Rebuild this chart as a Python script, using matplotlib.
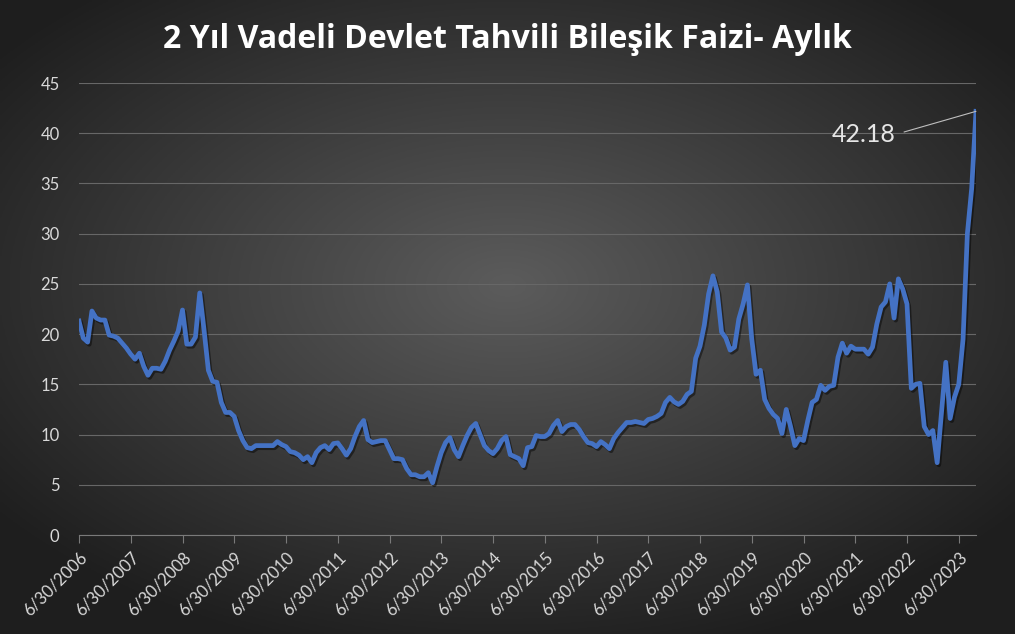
import matplotlib
matplotlib.use("Agg")
import matplotlib.pyplot as plt
import matplotlib.patheffects as pe
import numpy as np

# Monthly 2-year bond yield (%), starting 6/30/2006
rates = [
    21.3, 19.6, 19.2, 22.3, 21.6, 21.4, 21.4, 19.9, 19.8, 19.6, 19.1, 18.6,
    18.0, 17.5, 18.1, 16.8, 15.9, 16.6, 16.6, 16.5, 17.3, 18.4, 19.3, 20.3,
    22.4, 19.0, 19.0, 19.7, 24.1, 20.4, 16.4, 15.3, 15.2, 13.2, 12.2, 12.2,
    11.8, 10.4, 9.4, 8.7, 8.6, 8.9, 8.9, 8.9, 8.9, 8.9, 9.3, 9.0,
    8.8, 8.3, 8.2, 7.95, 7.5, 7.8, 7.2, 8.2, 8.7, 8.9, 8.5, 9.1,
    9.17, 8.6, 7.95, 8.6, 9.8, 10.8, 11.4, 9.5, 9.2, 9.3, 9.4, 9.4,
    8.5, 7.6, 7.6, 7.5, 6.6, 6.0, 6.0, 5.8, 5.8, 6.2, 5.2, 6.8,
    8.2, 9.2, 9.7, 8.5, 7.8, 8.9, 9.9, 10.7, 11.1, 10.0, 8.9, 8.4,
    8.1, 8.6, 9.4, 9.8, 8.0, 7.8, 7.6, 6.9, 8.7, 8.8, 9.9, 9.8,
    9.8, 10.1, 10.9, 11.4, 10.3, 10.8, 11.0, 11.0, 10.5, 9.8, 9.2, 9.1,
    8.8, 9.3, 9.0, 8.6, 9.6, 10.2, 10.7, 11.2, 11.2, 11.3, 11.2, 11.1,
    11.5, 11.6, 11.8, 12.1, 13.2, 13.7, 13.25, 13.0, 13.3, 14.0, 14.3, 17.6,
    18.8, 20.9, 24.0, 25.8, 24.2, 20.2, 19.6, 18.4, 18.7, 21.5, 23.0, 24.9,
    19.5, 16.0, 16.4, 13.5, 12.6, 12.0, 11.6, 10.1, 12.5, 10.8, 8.9, 9.6,
    9.4, 11.4, 13.2, 13.5, 14.9, 14.4, 14.8, 14.9, 17.7, 19.1, 18.1, 18.8,
    18.5, 18.5, 18.5, 18.0, 18.7, 21.0, 22.7, 23.2, 25.0, 21.6, 25.5, 24.5,
    23.0, 14.6, 15.0, 15.1, 10.8, 10.0, 10.4, 7.2, 12.2, 17.2, 11.6, 13.7,
    15.0, 19.5, 30.0, 34.5, 42.18,
]
years = list(range(2006, 2024))
tick_labels = [f"6/30/{y}" for y in years]
y_ticks = list(range(0, 50, 5))

title = "2 Yıl Vadeli Devlet Tahvili Bileşik Faizi- Aylık"


def main():
    fig = plt.figure(figsize=(10.15, 6.34), dpi=100)

    # radial gradient background
    bg = fig.add_axes([0, 0, 1, 1], zorder=-10)
    gx, gy = np.meshgrid(np.linspace(-1, 1, 400), np.linspace(-1, 1, 250))
    r = np.sqrt((gx / 1.05) ** 2 + ((gy + 0.1) / 1.0) ** 2)
    shade = np.clip(0.36 - 0.2 * r, 0.12, 0.36)
    img = np.dstack([shade, shade, shade])
    bg.imshow(img, aspect="auto", extent=[0, 1, 0, 1])
    bg.axis("off")

    ax = fig.add_axes([79 / 1015, 1 - 535 / 634, (976 - 79) / 1015, (535 - 83) / 634])
    ax.patch.set_alpha(0)

    x = np.arange(len(rates))
    ax.plot(x, rates, color="#4472C4", lw=3.4, solid_joinstyle="round",
            path_effects=[pe.SimpleLineShadow(offset=(1.2, -1.5), shadow_color="black", alpha=0.45),
                          pe.Normal()], zorder=3)

    ax.set_xlim(0, len(rates) - 1)
    ax.set_ylim(0, 45)
    ax.set_yticks(y_ticks)
    ax.set_xticks(np.arange(0, 12 * len(years), 12))
    ax.set_xticklabels(tick_labels, rotation=45, ha="right", rotation_mode="anchor")

    ax.grid(axis="y", color="#676767", lw=0.8)
    ax.set_axisbelow(True)
    for s in ["top", "right", "left"]:
        ax.spines[s].set_visible(False)
    ax.spines["bottom"].set_color("#7a7a7a")
    ax.tick_params(axis="y", length=0, pad=14, labelsize=12, labelcolor="#d9d9d9")
    ax.tick_params(axis="x", length=6, color="#7a7a7a", pad=4, labelsize=12, labelcolor="#d9d9d9")
    for lab in ax.get_xticklabels() + ax.get_yticklabels():
        lab.set_family("Lato")

    # last value label
    last = len(rates) - 1
    ax.annotate(f"{rates[-1]:.2f}", xy=(last, rates[-1]), xytext=(-112, -23),
                textcoords="offset pixels",
                fontsize=18, color="#e6e6e6", family="Lato", ha="center", va="center",
                arrowprops=dict(arrowstyle="-", color="#bfbfbf", lw=0.8,
                                shrinkA=4, shrinkB=0, relpos=(1, 0.5)))

    fig.text(0.5, 1 - 39 / 634, title, ha="center", va="center", color="white",
             fontsize=23, fontweight="bold", family="Open Sans")

    fig.savefig("out.png", dpi=100)


if __name__ == "__main__":
    main()
